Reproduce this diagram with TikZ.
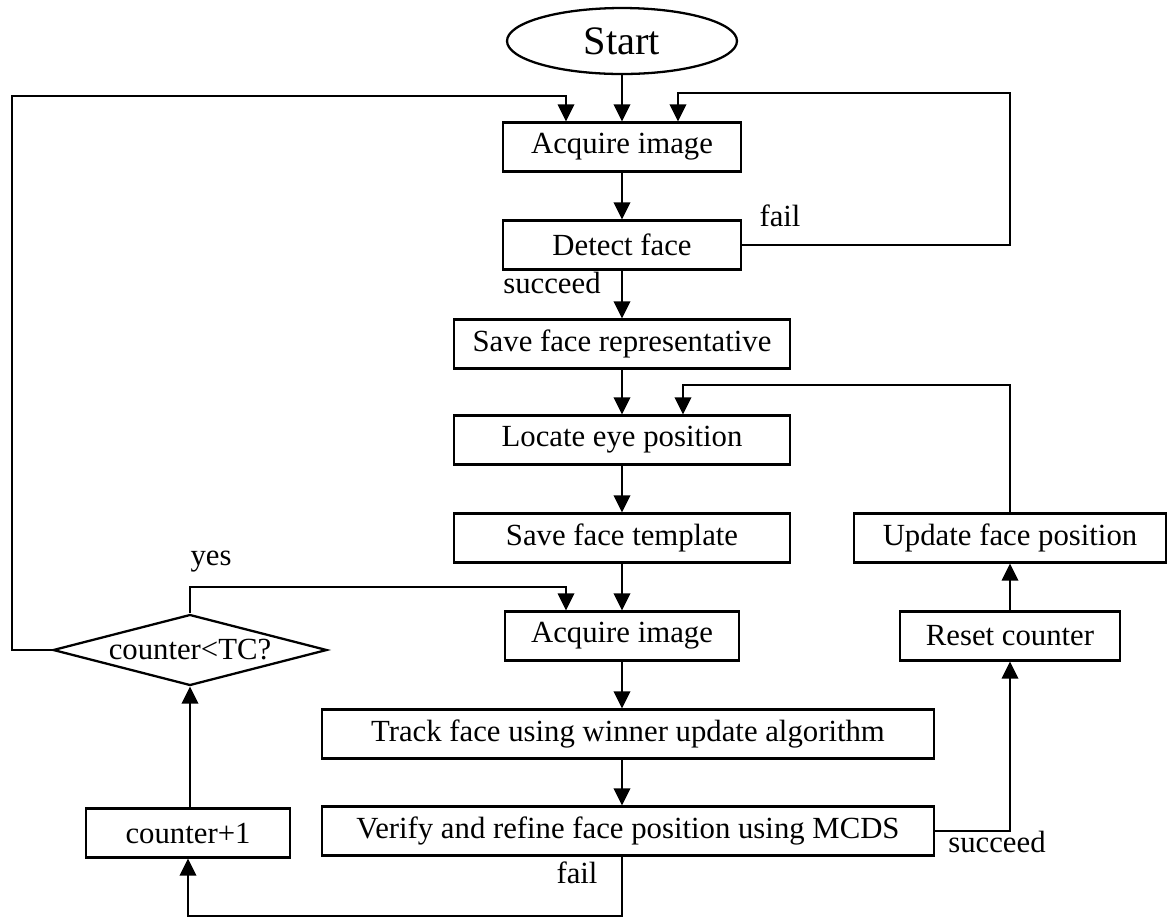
\documentclass[tikz,border=0pt]{standalone}
\usepackage{fontspec}
\setmainfont{Liberation Serif}
\usetikzlibrary{arrows.meta,shapes.geometric}
\tikzset{
  blk/.style={draw, line width=1.3pt, minimum height=0.98cm, inner sep=2pt, font=\fontsize{17.5}{20}\selectfont},
  dec/.style={draw, diamond, aspect=3.86, line width=1.3pt, minimum width=5.48cm, minimum height=1.42cm, inner sep=0pt, font=\fontsize{17.5}{20}\selectfont},
  flw/.style={-{Triangle[length=3.4mm,width=3.3mm]}, line width=1.1pt},
  lbl/.style={font=\fontsize{17.5}{20}\selectfont, inner sep=0pt},
}
\begin{document}
\begin{tikzpicture}[x=0.02cm,y=-0.02cm]
  \useasboundingbox (0,0) rectangle (1167,921);
  \node[draw, ellipse, line width=1.3pt, minimum width=4.6cm, minimum height=1.32cm, font=\fontsize{23}{26}\selectfont] (start) at (622,41) {Start};
  \node[blk, minimum width=4.76cm] (acqa) at (622,147) {Acquire image};
  \node[blk, minimum width=4.76cm] (detect) at (622,245) {Detect face};
  \node[blk, minimum width=6.72cm] (saverep) at (622,344) {Save face representative};
  \node[blk, minimum width=6.72cm] (locate) at (622,440) {Locate eye position};
  \node[blk, minimum width=6.72cm] (savetpl) at (622,538) {Save face template};
  \node[blk, minimum width=4.68cm] (acqb) at (622,636) {Acquire image};
  \node[blk, minimum width=12.24cm] (track) at (628,734) {Track face using winner update algorithm};
  \node[blk, minimum width=12.24cm] (verify) at (628,831) {Verify and refine face position using MCDS};
  \node[blk, minimum width=4.08cm] (cplus) at (188,833) {counter+1};
  \node[dec] (cmp) at (190,650) {counter<TC?};
  \node[blk, minimum width=4.4cm] (reset) at (1010,636) {Reset counter};
  \node[blk, minimum width=6.24cm] (update) at (1010,538) {Update face position};

  \node[lbl] (okA) at (552,283) {succeed};
  \node[lbl] (noA) at (780,216) {fail};
  \node[lbl] (yes) at (211,562) {yes};
  \node[lbl] (okB) at (997,842) {succeed};
  \node[lbl] (noB) at (577,873) {fail};

  \coordinate (fr) at (1010,93);
  \coordinate (tl) at (12,96);
  \coordinate (ul) at (1010,385);
  \coordinate (yl) at (190,587);
  \coordinate (fb) at (622,916);

  \draw[flw] (start) -- (acqa);
  \draw[flw] (acqa) -- (detect);
  \draw[flw] (detect) -- (saverep);
  \draw[flw] (detect.east) -| (fr) -| ([xshift=1.12cm]acqa.north);
  \draw[flw] (saverep) -- (locate);
  \draw[flw] (locate) -- (savetpl);
  \draw[flw] (savetpl) -- (acqb);
  \draw[flw] (acqb) -- (track.north -| acqb.south);
  \draw[flw] (track.south -| acqb.south) -- (verify.north -| acqb.south);
  \draw[flw] (verify.east) -| (reset.south);
  \draw[flw] (reset) -- (update);
  \draw[flw] (update.north) -- (ul) -| ([xshift=1.22cm]locate.north);
  \draw[flw] (verify.south -| acqb.south) -- (fb) -| (cplus.south);
  \draw[flw] (cplus.north -| cmp.south) -- (cmp.south);
  \draw[flw] (cmp.north) -- (yl) -| ([xshift=-1.12cm]acqb.north);
  \draw[flw] (cmp.west) -| (tl) -| ([xshift=-1.12cm]acqa.north);
\end{tikzpicture}
\end{document}
